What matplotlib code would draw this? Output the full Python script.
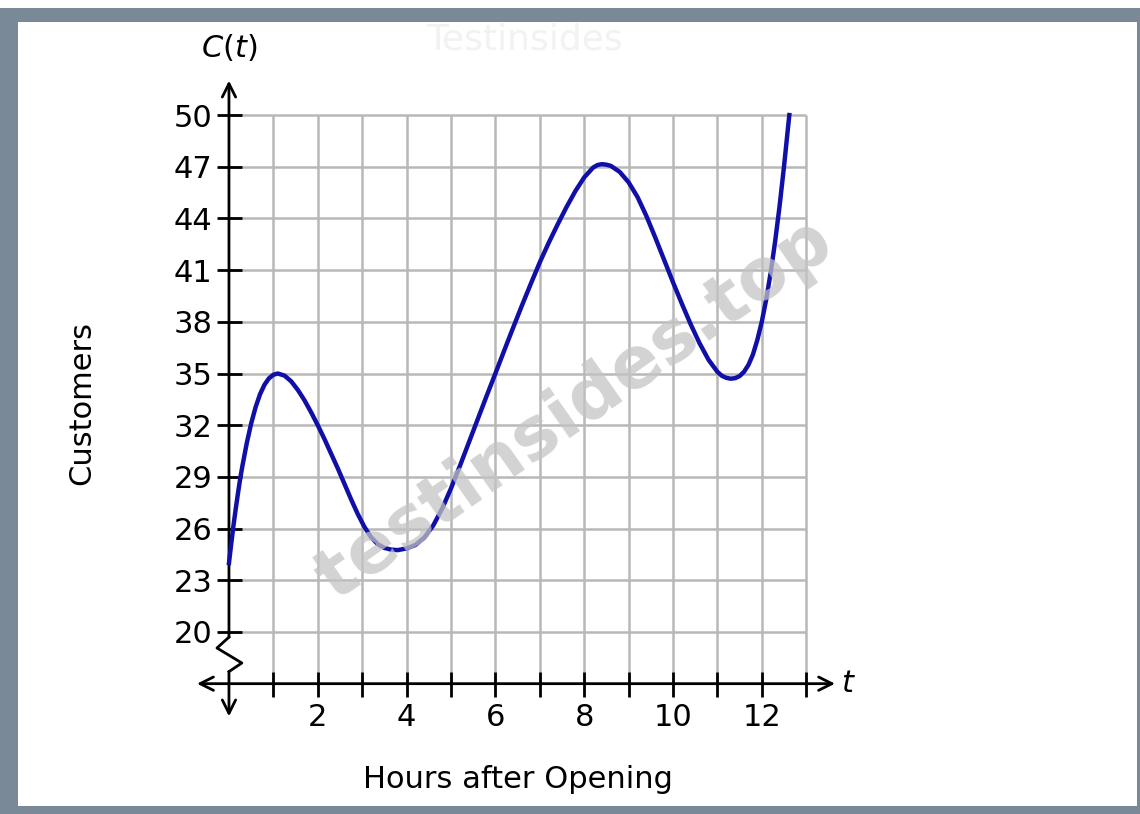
import matplotlib.pyplot as plt
from matplotlib.patches import Rectangle

# values
hours = [0.0, 0.05, 0.1, 0.15, 0.2, 0.25, 0.3, 0.4, 0.5, 0.6, 0.7, 0.8, 0.9,
         1.0, 1.1, 1.25, 1.4, 1.55, 1.7, 1.85, 2.0, 2.15, 2.3, 2.45, 2.6,
         2.75, 2.9, 3.05, 3.2, 3.35, 3.5, 3.65, 3.8, 4.0, 4.2, 4.4, 4.6, 4.8,
         5.0, 5.2, 5.4, 5.6, 5.8, 6.0, 6.2, 6.4, 6.6, 6.8, 7.0, 7.2, 7.4, 7.6,
         7.8, 8.0, 8.2, 8.3, 8.4, 8.5, 8.6, 8.8, 9.0, 9.2, 9.4, 9.6, 9.8,
         10.0, 10.2, 10.4, 10.6, 10.8, 11.0, 11.1, 11.2, 11.3, 11.4, 11.5,
         11.6, 11.7, 11.8, 11.9, 12.0, 12.1, 12.2, 12.3, 12.4, 12.5, 12.6,
         12.62]
customers = [24.0, 25.1, 26.15, 27.1, 28.0, 28.85, 29.6, 30.95, 32.1, 33.05,
             33.8, 34.35, 34.72, 34.93, 35.0, 34.88, 34.55, 34.05, 33.45,
             32.75, 32.0, 31.2, 30.35, 29.5, 28.6, 27.7, 26.85, 26.1, 25.5,
             25.1, 24.88, 24.78, 24.75, 24.85, 25.05, 25.48, 26.18, 27.15,
             28.33, 29.63, 30.98, 32.33, 33.68, 35.0, 36.34, 37.66, 38.96,
             40.22, 41.45, 42.58, 43.64, 44.65, 45.58, 46.38, 46.95, 47.1,
             47.15, 47.12, 47.05, 46.7, 46.1, 45.25, 44.15, 42.9, 41.6, 40.3,
             39.05, 37.85, 36.75, 35.8, 35.1, 34.87, 34.75, 34.7, 34.73, 34.85,
             35.1, 35.5, 36.1, 36.95, 38.0, 39.3, 40.85, 42.65, 44.7, 47.0,
             49.5, 50.0]

y_ticks = [20, 23, 26, 29, 32, 35, 38, 41, 44, 47, 50]
x_ticks = list(range(1, 14))
x_labels = [str(t) if t % 2 == 0 and t <= 12 else '' for t in x_ticks]

fig = plt.figure(figsize=(11.4, 8.14), dpi=100, facecolor='white')

# grey frame round the picture
fig.patches.append(Rectangle((0, 0), 1, 1 - 8 / 814, transform=fig.transFigure,
                             facecolor='#7a8998', edgecolor='none', zorder=-10))
fig.patches.append(Rectangle((18 / 1140, 1 - 806 / 814), (1137 - 18) / 1140,
                             (806 - 22) / 814, transform=fig.transFigure,
                             facecolor='white', edgecolor='none', zorder=-9))

ax = fig.add_axes([0.1619, 0.0966, 0.6037, 0.8679])
ax.set_xlim(-1, 14.5)
ax.set_ylim(14, 55)
ax.patch.set_alpha(0)

# grid
ax.hlines(y_ticks, 0, 13, color='#b8b8b8', lw=1.8, zorder=0)
ax.vlines(x_ticks, 17, 50, color='#b8b8b8', lw=1.8, zorder=0)

# axes lines
ax.spines['left'].set_position(('data', 0))
ax.spines['bottom'].set_position(('data', 17))
for s in ['left', 'bottom', 'top', 'right']:
    ax.spines[s].set_visible(False)

ax.set_yticks(y_ticks)
ax.set_yticklabels([str(v) for v in y_ticks])
ax.set_xticks(x_ticks)
ax.set_xticklabels(x_labels)
ax.tick_params(axis='both', direction='inout', length=18, width=2, labelsize=22,
               colors='black')
ax.tick_params(axis='y', pad=3)
ax.tick_params(axis='x', pad=5)

arrow = dict(arrowstyle='->', lw=2, color='black', mutation_scale=24,
             shrinkA=0, shrinkB=0)
ax.annotate('', xy=(0, 52.0), xytext=(0, 19.7), arrowprops=arrow,
            annotation_clip=False)
ax.annotate('', xy=(0, 15.1), xytext=(0, 17.7), arrowprops=arrow,
            annotation_clip=False)
ax.annotate('', xy=(13.65, 17), xytext=(-0.72, 17),
            arrowprops=dict(arrow, arrowstyle='<->'), annotation_clip=False)
# break mark on the y axis
ax.plot([0, -0.27, 0.29, 0], [19.7, 19.07, 18.2, 17.7], color='black', lw=2)

ax.plot(hours, customers, color='#1010a8', lw=3.2, zorder=3,
        solid_joinstyle='round')

ax.text(0, 53.9, '$C(t)$', fontsize=22, ha='center', va='center')
ax.text(13.95, 17, '$t$', fontsize=22, ha='center', va='center')

fig.text(82 / 1140, 1 - 403 / 814, 'Customers', fontsize=22, rotation=90,
         ha='center', va='center')
fig.text(518 / 1140, 1 - 779 / 814, 'Hours after Opening', fontsize=22,
         ha='center', va='center')

# watermarks
fig.text(0.504, 0.496, 'testinsides.top', fontsize=52, fontweight='bold',
         rotation=35, color='#c4c4c4', alpha=0.75, ha='center', va='center',
         zorder=5)
fig.text(525 / 1140, 1 - 40 / 814, 'Testinsides', fontsize=26, color='#f2f2f2',
         ha='center', va='center')

fig.savefig('out.png', dpi=100)
